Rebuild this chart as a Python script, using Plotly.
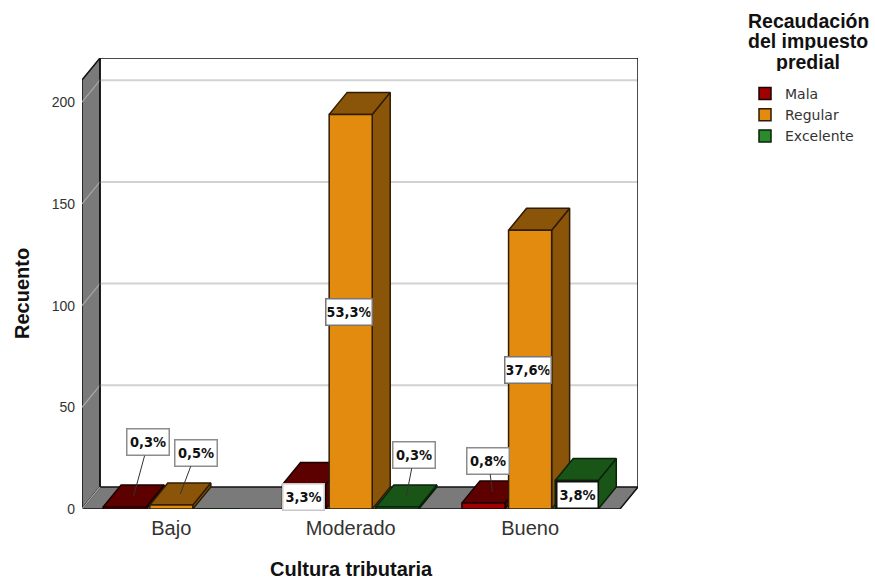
import plotly.graph_objects as go

categories = ["Bajo", "Moderado", "Bueno"]
series_names = ["Mala", "Regular", "Excelente"]
mala = [1, 12, 3]
regular = [2, 194, 137]
excelente = [0, 1, 14]
mala_pct = ["0,3%", "3,3%", "0,8%"]
regular_pct = ["0,5%", "53,3%", "37,6%"]
excelente_pct = ["", "0,3%", "3,8%"]
y_ticks = [0, 50, 100, 150, 200]
legend_title_lines = ["Recaudación", "del impuesto", "predial"]

series = [mala, regular, excelente]
pcts = [mala_pct, regular_pct, excelente_pct]
front = ["#a00000", "#e28b0f", "#2b8a2b"]
dark = ["#5c0000", "#8a5508", "#1a5518"]
edge = ["#1c0000", "#2e1c04", "#0a220a"]
WALL = "#7a7a7a"
GRID = "#d2d2d2"

# Layout constants: plot frame and oblique depth of the 3D projection, in pixels
W, H = 875, 581
L, R, T, B = 82, 638, 58, 509
PX_PER_CAT = 179.4
PX_PER_UNIT = 2.034
DX_PX, DY_PX = 18, 22
DX = DX_PX / PX_PER_CAT
DY = DY_PX / PX_PER_UNIT
X0 = (L - 171.3) / PX_PER_CAT
X1 = X0 + (R - L) / PX_PER_CAT
Y1 = (B - T) / PX_PER_UNIT
XF = X1 - DX  # right edge of the front plane
YTOP = Y1 - DY
BAR_W = 0.24
SLOT = 0.26

fig = go.Figure()


def poly(points, fill, line, width=1.5):
    xs, ys = [], []
    for p in points:
        if p is None:
            xs.append(None)
            ys.append(None)
        else:
            xs.append(p[0])
            ys.append(p[1])
    fig.add_trace(go.Scatter(x=xs, y=ys, mode="lines", fill="toself" if fill else None,
                             fillcolor=fill, line=dict(color=line, width=width),
                             showlegend=False, hoverinfo="skip"))


# walls and floor
poly([(X0, 0), (X0 + DX, DY), (X0 + DX, Y1), (X0, YTOP), (X0, 0)], WALL, "#111111", 1.5)
poly([(X0, 0), (XF, 0), (X1, DY), (X0 + DX, DY), (X0, 0)], WALL, "#111111", 1.5)
for t in y_ticks[1:]:
    poly([(X0 + DX, t + DY), (X1, t + DY)], None, GRID, 2)
for t in y_ticks:
    poly([(X0, t), (X0 + DX, t + DY)], None, "#a8a8a8", 1.2)
poly([(X0 + DX, Y1), (X1, Y1), (X1, DY)], None, "#111111", 1.5)
poly([(X0 + DX, DY), (X0 + DX, Y1)], None, "#111111", 1.5)

# side and top faces of every bar, left to right
for k, vals in enumerate(series):
    side, top = [], []
    for i, v in enumerate(vals):
        if v <= 0:
            continue
        a = i + (k - 1) * SLOT - BAR_W / 2
        b = a + BAR_W
        side += [(b, 0), (b + DX, DY), (b + DX, v + DY), (b, v), (b, 0), None]
        top += [(a, v), (a + DX, v + DY), (b + DX, v + DY), (b, v), (a, v), None]
    poly(side, dark[k], edge[k])
    poly(top, dark[k], edge[k])

# front faces: real bars on an overlaid pair of axes so they sit above the depth faces
for k, vals in enumerate(series):
    fig.add_trace(go.Bar(x=list(range(3)), y=vals, name=series_names[k], xaxis="x2", yaxis="y2",
                         width=BAR_W, offset=(k - 1) * SLOT - BAR_W / 2,
                         marker=dict(color=front[k], line=dict(color=edge[k], width=1.5)),
                         hovertemplate="%{y}<extra>" + series_names[k] + "</extra>"))

# value labels: tail offsets in pixels for the raised ones; keys are (category, series)
raised = {(0, 0): (14.5, -53.5), (0, 1): (15.5, -41), (1, 2): (8, -41), (2, 0): (-4, -31)}
inside_border = {(1, 0): "#c8c8c8", (1, 1): "#777777", (2, 1): "#777777", (2, 2): "#111111"}
LABEL_FONT = dict(family="DejaVu Sans Condensed, Liberation Serif", size=14.5, color="#111111")
for k in range(3):
    for i in range(3):
        txt = pcts[k][i]
        if not txt:
            continue
        cx = i + (k - 1) * SLOT
        v = series[k][i]
        common = dict(text="<b>" + txt + "</b>", font=LABEL_FONT, bgcolor="white",
                      xref="x", yref="y", align="center")
        if (i, k) in raised:
            ax, ay = raised[(i, k)]
            fig.add_annotation(x=cx + DX / 2, y=v + DY / 2, showarrow=True, arrowhead=0,
                               arrowwidth=1, arrowcolor="#333333", ax=ax, ay=ay,
                               bordercolor="#8c8c8c", borderwidth=1.5,
                               width=39, height=23, **common)
        else:
            wide = len(txt) > 4
            fig.add_annotation(x=cx, y=v / 2, showarrow=False,
                               xshift=-2 if wide else (-1 if k == 0 else 1),
                               bordercolor=inside_border[(i, k)], borderwidth=1.5,
                               width=43 if wide else 38, height=23, **common)

# legend title, one annotation per line to hold the tight line spacing
for n, line in enumerate(legend_title_lines):
    fig.add_annotation(text="<b>" + line + "</b>", xref="paper", yref="paper",
                       x=808 / W, y=1 - (20 + 20.7 * n) / H, showarrow=False,
                       xanchor="center", yanchor="middle", height=19,
                       font=dict(family="Liberation Sans", size=19.5, color="#111111"))

# axis titles
fig.add_annotation(text="<b>Cultura tributaria</b>", xref="paper", yref="paper",
                   x=351 / W, y=1 - 569 / H, showarrow=False, xanchor="center", yanchor="middle",
                   font=dict(family="Liberation Sans", size=20, color="#111111"))
fig.add_annotation(text="<b>Recuento</b>", xref="paper", yref="paper",
                   x=22 / W, y=1 - 294 / H, showarrow=False, xanchor="center", yanchor="middle",
                   textangle=-90,
                   font=dict(family="Liberation Sans", size=20, color="#111111"))

fig.update_layout(
    width=W, height=H, margin=dict(l=0, r=0, t=0, b=0, autoexpand=False),
    paper_bgcolor="white", plot_bgcolor="white", barmode="overlay",
    font=dict(family="Liberation Sans", color="#333333"),
    xaxis=dict(domain=[L / W, R / W], range=[X0, X1], tickmode="array", tickvals=[0, 1, 2],
               ticktext=categories, showgrid=False, zeroline=False, showline=False, ticks="",
               tickfont=dict(size=20, color="#333333"), ticklabelstandoff=5),
    yaxis=dict(domain=[1 - B / H, 1 - T / H], range=[0, Y1], tickmode="array", tickvals=y_ticks,
               showgrid=False, zeroline=False, showline=False, ticks="",
               tickfont=dict(size=14, color="#333333"), ticklabelstandoff=6),
    xaxis2=dict(overlaying="x", range=[X0, X1], visible=False, domain=[L / W, R / W]),
    yaxis2=dict(overlaying="y", range=[0, Y1], visible=False, domain=[1 - B / H, 1 - T / H]),
    legend=dict(x=745 / W, y=1 - 78 / H, xanchor="left", yanchor="top", traceorder="normal",
                font=dict(family="DejaVu Sans", size=14, color="#333333"),
                itemwidth=30, bgcolor="rgba(0,0,0,0)"),
    showlegend=True,
)

fig.write_html("out.html", config={"displayModeBar": False},
               post_script="document.body.style.margin='0';")
